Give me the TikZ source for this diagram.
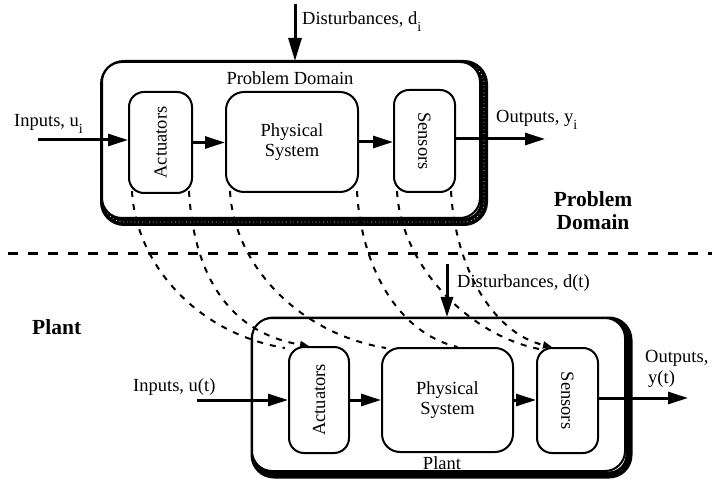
\documentclass[tikz,border=0pt]{standalone}
\usepackage{fontspec}
\setmainfont{Liberation Serif}
\usetikzlibrary{arrows.meta,calc}
\pgfdeclarelayer{background}
\pgfsetlayers{background,main}
\newcommand{\subi}{\raisebox{-7pt}{\fontsize{14}{14}\selectfont i}}
\tikzset{
  box/.style={draw, line width=2pt, rounded corners=#1, fill=white, inner sep=0pt, align=center, font=\fontsize{18.5}{20}\selectfont},
  lbl/.style={font=\fontsize{18.5}{20}\selectfont, inner sep=0pt},
  blbl/.style={font=\fontsize{21.5}{23}\selectfont\bfseries, inner sep=0pt, align=center},
  flow/.style={line width=3pt, -{Triangle[length=20pt,width=12pt]}},
  proj/.style={line width=2pt, dash pattern=on 6pt off 7pt},
  projarrow/.style={proj, -{Triangle[length=9pt,width=7pt]}},
  sepline/.style={line width=3pt, dash pattern=on 10pt off 10pt},
  shadowband/.style={line width=#1, rounded corners=20pt},
}
\begin{document}
\begin{tikzpicture}[x=1pt,y=-1pt]
\useasboundingbox (0,0) rectangle (712,486);

% ---------- top: problem domain ----------
\node[box=20pt, minimum width=378pt, minimum height=156pt] (tpd) at (291,140) {};
\node[lbl] (tpdl) at (290,78) {Problem Domain};
\node[box=15pt, minimum width=63pt, minimum height=101pt] (ta) at (160.5,142.5) {\rotatebox{90}{Actuators}};
\node[box=18pt, minimum width=132pt, minimum height=100pt] (tp) at (292,142) {Physical\\System};
\node[box=15pt, minimum width=61pt, minimum height=102pt] (ts) at (424.5,141) {\rotatebox{-90}{Sensors}};

\coordinate (tin) at (38,140);
\draw[flow] (tin) -- (tin -| ta.west);
\draw[flow] (ta.east) -- (ta.east -| tp.west);
\draw[flow] (tp.east) -- (tp.east -| ts.west);
\coordinate (tout) at (545,139);
\draw[flow] (tout -| ts.east) -- (tout);
\coordinate (tdist) at (295,4);
\draw[line width=3pt, -{Triangle[length=23pt,width=13pt]}] (tdist) -- (tdist |- tpd.north);

\node[lbl, anchor=west] (tdl) at (302,22) {Disturbances, d\subi};
\node[lbl, anchor=west] (tinl) at (14,124) {Inputs, u\subi};
\node[lbl, anchor=west] (toutl) at (496,120) {Outputs, y\subi};

\node[blbl] (pdl) at (593,211) {Problem\\Domain};
\node[blbl, anchor=west] (pll) at (32,327) {Plant};

\coordinate (sepl) at (8,254);
\coordinate (sepr) at (712,254);
\draw[sepline] (sepl) -- (sepr);

% ---------- bottom: plant ----------
\node[box=20pt, minimum width=373pt, minimum height=153pt] (bpl) at (438.5,394.5) {};
\node[lbl] (bpll) at (442,463) {Plant};
\node[box=15pt, minimum width=60pt, minimum height=106pt] (ba) at (319,400) {\rotatebox{90}{Actuators}};
\node[box=18pt, minimum width=131pt, minimum height=104pt] (bp) at (447.5,400) {Physical\\System};
\node[box=15pt, minimum width=61pt, minimum height=105pt] (bs) at (567.5,400.5) {\rotatebox{-90}{Sensors}};

\coordinate (bin) at (197,400);
\draw[flow] (bin) -- (bin -| ba.west);
\draw[flow] (ba.east) -- (ba.east -| bp.west);
\draw[flow] (bp.east) -- (bp.east -| bs.west);
\coordinate (bout) at (688,398);
\draw[flow] (bout -| bs.east) -- (bout);
\coordinate (bdist) at (447,264);
\draw[flow] (bdist) -- (bdist |- bpl.north);

\node[lbl, anchor=west] (binl) at (133,387) {Inputs, u(t)};
\node[lbl, anchor=west] (boutl1) at (645,358) {Outputs,};
\node[lbl, anchor=west] (boutl2) at (648,379) {y(t)};
\node[lbl, anchor=west] (bdl) at (457,283) {Disturbances, d(t)};

% ---------- shadows ----------
\begin{pgfonlayer}{background}
\draw[shadowband=8pt] ($(tpd.south west)+(3,3)$) rectangle ($(tpd.north east)+(3,3)$);
\draw[shadowband=0.7pt, white, dash pattern=on 0.7pt off 3pt] ($(tpd.south west)+(3,3)$) rectangle ($(tpd.north east)+(3,3)$);
\draw[shadowband=7pt] ($(bpl.south west)+(3,3)$) rectangle ($(bpl.north east)+(3,3)$);
\end{pgfonlayer}

% ---------- projection curves ----------
\coordinate (a1s) at ($(ta.south west)+(4,-3)$);
\coordinate (a1e) at ($(ba.north west)+(-3,2)$);
\coordinate (a2s) at ($(ta.south east)+(-4,-3)$);
\coordinate (a2e) at ($(ba.north)+(-10,0)$);
\coordinate (p1s) at ($(tp.south west)+(5,-2)$);
\coordinate (p1e) at ($(bp.north west)+(5,1)$);
\coordinate (p2s) at ($(tp.south east)+(-2,-2)$);
\coordinate (p2e) at ($(bp.north)+(10,0)$);
\coordinate (s1s) at ($(ts.south west)+(4,-2)$);
\coordinate (s1e) at ($(bs.north west)+(3,2)$);
\coordinate (s2s) at ($(ts.south east)+(-5,-2)$);
\coordinate (s2e) at ($(bs.north west)+(16,0)$);

\draw[proj] (a1s) .. controls +(4,75) and +(-86,-14) .. (a1e);
\draw[projarrow] (a2s) .. controls +(4,75) and +(-86,-14) .. (a2e);
\draw[proj] (p1s) .. controls +(4,75) and +(-86,-14) .. (p1e);
\draw[proj] (p2s) .. controls +(4,75) and +(-60,-14) .. (p2e);
\draw[proj] (s1s) .. controls +(4,75) and +(-70,-14) .. (s1e);
\draw[projarrow] (s2s) .. controls +(4,75) and +(-60,-14) .. (s2e);
\end{tikzpicture}
\end{document}
